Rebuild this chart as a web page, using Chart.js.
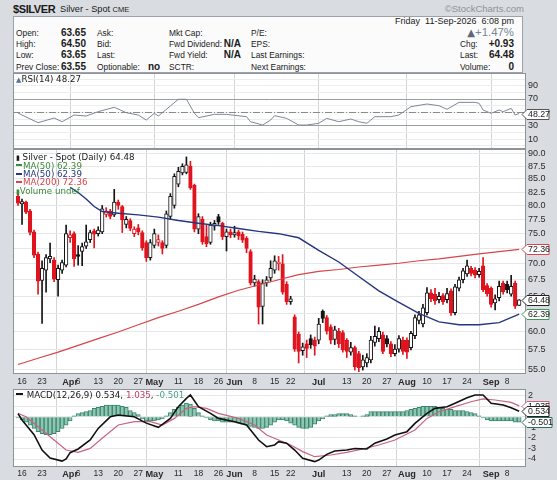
<!DOCTYPE html>
<html><head><meta charset="utf-8">
<title>$SILVER</title>
<script src="https://cdn.jsdelivr.net/npm/chart.js@4.4.1/dist/chart.umd.min.js"></script>
<style>
html,body{margin:0;padding:0}
body{width:557px;height:480px;background:#d9dce0;position:relative;overflow:hidden;font-family:"Liberation Sans",Arial,sans-serif;color:#1a1a1a}
.a{position:absolute;white-space:pre;line-height:12px;font-size:8.4px}
.b{font-weight:bold;font-size:10px}
.lg{position:absolute;white-space:pre;font-family:"DejaVu Sans",sans-serif;font-size:8.7px;line-height:10px}
canvas{position:absolute;left:13px}
#hdr{position:absolute;left:13px;top:16px;width:510px;height:57px;box-sizing:border-box;border:1px solid #9ca2a9;background:#fbfbfc}
.dash{display:inline-block;width:6px;height:2px;vertical-align:middle;margin-right:1px;position:relative;top:-1px}
</style></head><body>
<div class="a" style="left:13px;top:2px;font-size:11px;font-weight:bold;line-height:14px;letter-spacing:-0.4px">$SILVER</div>
<div class="a" style="left:60px;top:3px;font-size:9.2px">Silver - Spot <span style="font-size:7.5px">CME</span></div>
<div class="a" style="right:33px;top:3px;font-size:9.5px;color:#8d939b">©StockCharts.com</div>
<div id="hdr"></div>
<div class="a" style="right:43px;top:15px;font-size:9px">Friday  11-Sep-2026  6:08 pm</div>

<div class="a" style="left:16px;top:27px">Open:</div>
<div class="a" style="left:16px;top:38px">High:</div>
<div class="a" style="left:16px;top:49px">Low:</div>
<div class="a" style="left:16px;top:61px">Prev Close:</div>
<div class="a b" style="right:471px;top:27px">63.65</div>
<div class="a b" style="right:471px;top:38px">64.50</div>
<div class="a b" style="right:471px;top:49px">63.65</div>
<div class="a b" style="right:471px;top:61px">63.55</div>

<div class="a" style="left:97px;top:27px">Ask:</div>
<div class="a" style="left:97px;top:38px">Bid:</div>
<div class="a" style="left:97px;top:49px">Last:</div>
<div class="a" style="left:97px;top:61px">Optionable:</div>
<div class="a b" style="left:148px;top:61px">no</div>

<div class="a" style="left:169px;top:27px">Mkt Cap:</div>
<div class="a" style="left:169px;top:38px">Fwd Dividend:</div>
<div class="a" style="left:169px;top:49px">Fwd Yield:</div>
<div class="a" style="left:169px;top:61px">SCTR:</div>
<div class="a b" style="right:316px;top:38px">N/A</div>
<div class="a b" style="right:316px;top:49px">N/A</div>

<div class="a" style="left:251px;top:27px">P/E:</div>
<div class="a" style="left:251px;top:38px">EPS:</div>
<div class="a" style="left:251px;top:49px">Last Earnings:</div>
<div class="a" style="left:251px;top:61px">Next Earnings:</div>

<div class="a" style="right:43px;top:26px;font-size:11.4px;line-height:13px;color:#7a8595"><span style="font-family:'DejaVu Sans';font-size:10px;color:#5d6878">▲</span>+1.47%</div>
<div class="a" style="left:460px;top:38px">Chg:</div>
<div class="a" style="left:460px;top:49px">Last:</div>
<div class="a" style="left:460px;top:61px">Volume:</div>
<div class="a b" style="right:43px;top:38px">+0.93</div>
<div class="a b" style="right:43px;top:49px">64.48</div>
<div class="a b" style="right:43px;top:61px">0</div>

<canvas id="rsi" width="544" height="76" style="top:73px"></canvas>
<canvas id="price" width="544" height="240" style="top:149px"></canvas>
<canvas id="macd" width="544" height="91" style="top:389px"></canvas>

<div class="lg" style="left:16px;top:74px"><span style="color:#5a6e9a;font-size:7px">▲</span>RSI(14) 48.27</div>
<div class="lg" style="left:16px;top:152px"><span style="font-size:7px">▮</span> Silver - Spot (Daily) 64.48</div>
<div class="lg" style="left:16px;top:160.5px;color:#3a8a3a"><span class="dash" style="background:#3a8a3a"></span>MA(50) 62.39</div>
<div class="lg" style="left:16px;top:169px;color:#26357f"><span class="dash" style="background:#26357f"></span>MA(50) 62.39</div>
<div class="lg" style="left:16px;top:177.3px;color:#d9434a"><span class="dash" style="background:#d9434a"></span>MA(200) 72.36</div>
<div class="lg" style="left:16px;top:186px;color:#3a8a3a"><span style="font-size:7px">▮</span>Volume undef</div>
<div class="lg" style="left:16px;top:389.5px"><span class="dash" style="background:#111;width:7px"></span> MACD(12,26,9) 0.534, <span style="color:#c04060">1.035</span>, <span style="color:#4aa088">-0.501</span></div>

<script>
// ---------- data ----------
const xTickIdx  = [1,6,13,15,20,25,30,34,40,45,50,54,59,64,68,75,82,87,92,97,102,107,112,118,122];
const xTickText = ['16','23','Apr','6','13','20','27','May','11','18','26','Jun','8','15','22','Jul','13','20','27','Aug','10','17','24','Sep','8'];
const monthIdx  = [13,34,54,75,97,118];

const opens  = [81.7,80.3,80.6,79.0,75.3,71.6,67.4,69.0,70.8,70.6,67.5,69.0,69.8,74.3,75.0,71.5,72.0,72.9,74.0,75.5,75.0,75.3,78.4,79.0,78.3,80.6,79.8,76.6,77.3,75.0,76.0,75.2,73.5,71.0,73.0,73.5,73.5,73.0,78.0,80.0,84.0,86.2,86.3,87.5,83.8,75.8,77.5,74.5,73.5,76.3,78.0,76.8,74.5,75.3,74.8,75.3,74.9,74.2,72.0,67.0,67.2,63.5,67.0,67.8,69.0,70.0,70.0,66.8,64.2,62.0,59.6,57.4,58.3,59.0,58.8,58.8,62.8,61.9,60.6,58.9,60.0,59.8,58.8,57.2,57.8,57.0,55.3,55.8,56.2,58.5,59.0,59.5,59.0,58.3,57.0,57.6,58.8,58.8,57.8,59.4,61.5,61.0,62.6,65.5,65.3,64.5,65.1,64.5,65.8,62.6,66.2,67.5,68.4,69.3,69.0,68.3,69.7,66.6,66.2,64.0,64.8,67.0,66.8,65.3,67.0,63.65];
const highs  = [82.2,81.2,80.8,79.3,75.6,71.9,70.5,71.5,73.4,71.0,69.8,70.6,76.5,75.5,75.3,73.0,73.4,76.5,75.6,75.8,76.2,80.0,79.6,79.3,83.0,81.0,80.0,78.0,77.6,76.2,76.6,75.5,73.8,74.0,75.8,74.8,73.8,79.0,82.2,86.0,87.3,88.0,89.4,88.5,84.0,78.5,78.0,76.5,77.0,77.3,78.4,77.0,75.8,75.8,76.3,75.6,75.3,74.5,72.3,68.2,67.5,67.5,68.0,70.5,71.3,71.2,71.5,67.2,65.0,62.3,59.9,58.4,58.8,59.5,59.2,61.8,63.0,62.2,60.9,60.7,60.4,60.1,59.0,58.5,58.0,57.3,56.8,57.0,59.3,60.7,60.5,59.9,59.4,58.6,58.2,59.4,59.2,59.1,60.0,62.3,62.8,63.8,66.3,66.0,66.2,65.6,65.4,66.2,66.1,66.8,67.9,69.3,70.6,69.6,69.4,69.3,71.0,66.9,66.4,65.2,67.3,67.3,67.3,68.2,67.3,64.50];
const lows   = [80.0,76.6,78.5,74.8,71.0,65.3,61.1,65.6,70.2,67.2,65.0,68.5,69.5,73.5,69.6,69.8,69.7,72.5,73.5,72.6,74.6,75.0,77.9,77.6,78.0,79.3,75.2,76.0,75.5,74.5,74.8,72.2,70.4,70.6,72.6,72.9,71.6,72.6,77.5,79.5,83.5,85.8,86.0,83.0,75.3,75.0,73.2,72.8,73.2,75.6,76.6,74.0,72.1,74.3,74.4,74.0,73.5,71.8,66.7,66.5,61.0,61.0,66.5,67.3,68.5,69.0,65.3,63.8,63.8,57.3,55.8,56.8,56.5,57.7,56.8,58.3,61.2,59.6,58.3,58.2,57.8,57.2,56.5,56.8,54.9,54.7,54.9,55.3,55.8,58.0,58.6,57.0,57.9,56.6,56.7,57.2,56.9,56.4,57.5,59.0,61.0,60.6,62.3,64.2,63.8,64.0,63.8,64.0,62.2,62.3,65.8,67.0,68.0,68.1,67.8,67.9,65.7,65.0,63.4,63.0,64.3,65.3,65.5,65.0,63.2,63.65];
const closes = [80.4,80.7,78.8,75.2,71.4,67.3,69.3,71.0,71.2,67.6,69.3,70.2,75.0,74.8,70.8,71.2,72.8,73.6,75.2,74.9,75.6,79.4,79.0,78.0,80.6,80.0,77.4,77.5,75.9,75.8,75.3,72.6,71.0,73.5,75.0,74.0,72.5,78.5,81.7,85.5,86.5,87.5,87.8,83.3,75.8,78.0,73.6,73.3,76.5,76.8,77.0,74.5,75.3,74.8,75.2,74.6,73.9,72.5,67.0,67.6,63.4,67.0,67.5,69.3,70.5,70.3,65.6,64.2,64.6,57.6,57.3,57.9,57.7,58.2,58.0,61.0,61.8,60.0,58.8,60.2,58.3,57.5,57.3,57.8,55.3,55.2,56.2,56.5,58.8,59.3,60.0,57.3,58.3,57.0,57.6,59.0,57.3,57.2,59.7,61.9,62.3,63.3,65.5,64.6,64.3,65.0,64.2,65.4,62.6,66.4,67.5,68.9,69.7,68.5,68.2,68.8,66.0,65.4,63.8,64.6,66.5,65.7,66.0,66.5,63.55,64.48];

const ma50Idx  = [13,15,17,19,21,25,30,35,40,45,50,55,60,65,70,75,80,85,90,95,100,105,110,115,120,125];
const ma50Val  = [83.4,82.4,81.2,79.8,78.9,78.6,78.3,77.9,77.3,76.8,76.4,75.9,75.4,75.0,74.3,72.2,70.3,68.0,65.8,64.1,62.5,61.3,60.9,60.9,61.2,62.39];
const ma200Idx = [0,5,10,15,20,25,30,35,40,45,50,55,60,65,70,75,80,85,90,95,100,105,110,115,120,125];
const ma200Val = [55.6,56.4,57.2,58.1,59.0,59.9,60.9,61.9,62.8,63.8,64.9,65.9,66.7,67.5,68.3,68.8,69.1,69.5,69.8,70.1,70.5,70.8,71.2,71.6,72.0,72.36];
const priceTicks = [55,57.5,60,62.5,65,67.5,70,72.5,75,77.5,80,82.5,85,87.5,90];

const rsiIdx = [0,1,5,9,11,14,17,20,24,27,30,32,34,35,38,40,42,44,45,49,52,57,58,61,63,64,67,70,72,75,77,80,83,85,87,89,93,95,98,102,105,107,110,114,115,116,118,120,121,123,124,125];
const rsiVal = [49,46,34.5,41.5,36,46,44.5,51,57.6,49.5,46,38.5,48.6,44.5,59.5,69.6,69.6,48.6,42,47,47,43.5,36,31,38.5,45,41,31,31,33.6,41,36,40,36,33.6,43.5,43.5,46,58.5,62.5,60,54.6,65,65,63.6,53.5,48.6,53.5,51,56,46,48.27];
const rsiGrid = [0,10,20,30,40,50,60,70,80,90,100];
const rsiLabels = [10,30,70,90];

const macdIdx = [0,1,4,6,8,11,12,13,15,18,20,23,25,29,32,35,38,40,42,43,45,48,50,54,57,60,62,64,65,67,69,71,74,75,77,79,82,84,87,89,92,94,97,99,102,104,107,109,112,114,116,118,121,123,125];
const macdVal = [0.3,-0.3,-1.7,-3.15,-3.9,-4.2,-4.0,-3.4,-3.05,-2.2,-1.1,0,0.17,0,-0.6,-1.0,-0.15,0.96,1.75,2.07,0.96,0.33,-0.15,-0.46,-0.78,-2.2,-2.83,-2.67,-2.36,-2.5,-3.15,-3.93,-4.25,-4.1,-3.56,-3.24,-3.15,-3.0,-3.05,-2.5,-2.1,-1.72,-1.41,-0.62,0.33,0.8,0.96,1.28,1.81,2.07,2.07,1.28,1.12,0.86,0.534];
const signalIdx = [0,2,5,9,12,15,18,21,25,29,33,36,39,42,44,47,50,55,59,62,65,68,71,74,78,82,86,90,94,99,102,105,109,113,116,119,123,125];
const signalVal = [0.33,0,-0.94,-2.2,-3.15,-3.37,-2.99,-2.04,-0.78,-0.46,-0.46,-0.78,-0.15,0.8,0.96,0.8,0.33,-0.15,-0.78,-1.72,-2.2,-2.67,-3.3,-3.78,-3.62,-3.37,-3.05,-2.67,-2.2,-1.25,-0.15,0.48,0.96,1.43,1.69,1.59,1.37,1.035];
const histVal = [-0.1,-0.3,-0.5,-0.8,-1.1,-1.4,-1.6,-1.7,-1.7,-1.6,-1.4,-1.1,-0.8,-0.4,0.1,0.3,0.4,0.5,0.6,0.8,0.9,1.0,1.1,1.1,1.1,1.1,1.0,0.9,0.6,0.4,0.2,-0.2,-0.4,-0.4,-0.4,-0.3,-0.2,0.1,0.4,0.7,0.9,1.1,1.3,1.2,0.8,0.4,0.1,-0.1,-0.3,-0.4,-0.4,-0.5,-0.5,-0.5,-0.5,-0.6,-0.7,-0.8,-0.9,-1.0,-1.1,-1.1,-1.0,-0.8,-0.5,-0.3,-0.3,-0.4,-0.6,-0.8,-1.0,-1.1,-1.1,-1.0,-0.7,-0.4,-0.2,0.1,0.2,0.2,0.3,0.3,0.3,0.2,0.1,0.0,0.1,0.2,0.5,0.5,0.5,0.5,0.5,0.5,0.5,0.5,0.5,0.6,0.7,0.8,0.9,1.0,1.0,1.0,1.0,0.9,0.8,0.7,0.7,0.6,0.6,0.6,0.5,0.4,0.3,0.1,-0.1,-0.3,-0.4,-0.4,-0.4,-0.4,-0.4,-0.4,-0.5,-0.501];
const macdTicks = [2,1,0,-1,-2,-3,-4];

// ---------- styling / helpers ----------
const X_MIN = -1.25, X_MAX = 126.7;
const FONT = 'Liberation Sans';
const RED = '#e0141e', BLACK = '#141414';
Chart.defaults.font.family = FONT;

const pts = (ix, vals) => ix.map((x, k) => ({x, y: vals[k]}));
const candleColor = closes.map((c, i) => (i > 0 ? c < closes[i-1] : c < opens[i]) ? RED : BLACK);
const bodyFill = closes.map((c, i) => c < opens[i] ? candleColor[i] : '#ffffff');

const framePlugin = {
  id: 'frame',
  beforeDraw(chart) {
    const {ctx, chartArea: a} = chart;
    ctx.save(); ctx.fillStyle = '#ffffff';
    ctx.fillRect(a.left, a.top, a.right - a.left, a.bottom - a.top); ctx.restore();
  },
  beforeDatasetsDraw(chart, args, opts) {
    if (opts.dashAt === undefined) return;
    const {ctx, chartArea: a} = chart;
    const y = Math.round(chart.scales.y.getPixelForValue(opts.dashAt)) + 0.5;
    ctx.save(); ctx.strokeStyle = '#8a8a8a'; ctx.lineWidth = 1; ctx.setLineDash([7, 2, 1, 2]);
    ctx.beginPath(); ctx.moveTo(a.left, y); ctx.lineTo(a.right, y); ctx.stroke(); ctx.restore();
  },
  afterDatasetsDraw(chart) {
    const {ctx, chartArea: a} = chart;
    ctx.save(); ctx.strokeStyle = '#8e9399'; ctx.lineWidth = 1;
    ctx.strokeRect(a.left + 0.5, a.top + 0.5, a.right - a.left - 1, a.bottom - a.top - 1); ctx.restore();
  },
  afterDraw(chart, args, opts) {
    const {ctx, chartArea: a} = chart;
    (opts.tags || []).forEach(t => {
      const y = Math.round(chart.scales.y.getPixelForValue(t.v)) + 0.5;
      const r = a.right;
      ctx.save();
      ctx.beginPath();
      ctx.moveTo(r - 4, y); ctx.lineTo(r + 1, y - 5); ctx.lineTo(r + t.w, y - 5);
      ctx.lineTo(r + t.w, y + 5); ctx.lineTo(r + 1, y + 5); ctx.closePath();
      ctx.fillStyle = '#ffffff'; ctx.fill();
      ctx.strokeStyle = t.c; ctx.lineWidth = 1; ctx.stroke();
      ctx.fillStyle = '#1a1a1a'; ctx.font = '8.8px "' + FONT + '"'; ctx.textBaseline = 'middle';
      ctx.fillText(t.text, r + 2, y + 0.5);
      ctx.restore();
    });
  }
};

function xAxis(show, h, pad) {
  return {
    type: 'linear', min: X_MIN, max: X_MAX, offset: false,
    afterBuildTicks: s => { s.ticks = xTickIdx.map(v => ({value: v})); },
    afterFit: s => { s.height = h; s.paddingLeft = 0; s.paddingRight = 0; },
    grid: { color: c => (c.tick && monthIdx.includes(c.tick.value)) ? '#d2d4d7' : 'rgba(0,0,0,0)', drawTicks: false },
    border: { display: false },
    ticks: {
      display: show, autoSkip: false, maxRotation: 0, minRotation: 0, padding: pad, color: '#2a2a2a',
      callback: v => xTickText[xTickIdx.indexOf(v)],
      font: c => {
        const m = c.tick && monthIdx.includes(c.tick.value);
        return {family: FONT, size: m ? 9.2 : 8.5, weight: m ? 'bold' : 'normal'};
      }
    }
  };
}
function yAxis(extra) {
  return Object.assign({
    position: 'right',
    afterFit: s => { s.width = 31; s.paddingTop = 0; s.paddingBottom = 0; },
    border: { display: false },
    grid: { color: '#e6e7e9', drawTicks: false },
    ticks: { autoSkip: false, padding: 2, color: '#2a2a2a', font: {family: FONT, size: 9} }
  }, extra);
}
const base = {
  responsive: false, animation: false, events: [],
  layout: { padding: 0, autoPadding: false },
};

// ---------- RSI ----------
new Chart(document.getElementById('rsi'), {
  type: 'line',
  data: { datasets: [{ data: pts(rsiIdx, rsiVal), borderColor: '#7f879c', borderWidth: 1, pointRadius: 0, tension: 0 }] },
  options: Object.assign({}, base, {
    plugins: { legend: {display: false}, tooltip: {enabled: false}, frame: { dashAt: 50, tags: [{v: 48.27, text: '48.27', w: 23, c: '#555'}] } },
    scales: {
      x: xAxis(false, 0, 0),
      y: yAxis({
        min: -4.95, max: 109,
        afterBuildTicks: s => { s.ticks = rsiGrid.map(v => ({value: v})); },
        ticks: { autoSkip: false, padding: 2, color: '#2a2a2a', font: {family: FONT, size: 9},
                 callback: v => rsiLabels.includes(v) ? String(v) : '' },
        grid: { drawTicks: false, color: c => (c.tick && (c.tick.value === 70 || c.tick.value === 30)) ? '#9a9da1' : '#eceded' }
      })
    }
  }),
  plugins: [framePlugin]
});

// ---------- Price ----------
new Chart(document.getElementById('price'), {
  type: 'bar',
  data: { datasets: [
    { type: 'line', data: pts(ma50Idx, ma50Val), borderColor: '#26357f', borderWidth: 1.4, pointRadius: 0, tension: 0 },
    { type: 'line', data: pts(ma200Idx, ma200Val), borderColor: '#d9434a', borderWidth: 1.2, pointRadius: 0, tension: 0 },
    { type: 'bar', data: opens.map((o, i) => ({x: i, y: [Math.min(o, closes[i]), Math.max(o, closes[i])]})),
      backgroundColor: bodyFill, borderColor: candleColor, borderWidth: 1, borderSkipped: false,
      barThickness: 3.6, grouped: false, minBarLength: 1 },
    { type: 'bar', data: lows.map((l, i) => ({x: i, y: [l, highs[i]]})),
      backgroundColor: candleColor, borderWidth: 0, barThickness: 1, grouped: false }
  ]},
  options: Object.assign({}, base, {
    plugins: { legend: {display: false}, tooltip: {enabled: false}, frame: { tags: [
      {v: 72.36, text: '72.36', w: 23, c: '#d9434a'},
      {v: 64.48, text: '64.48', w: 23, c: '#222'},
      {v: 62.39, text: '62.39', w: 23, c: '#3c9a55'}
    ] } },
    scales: {
      x: xAxis(true, 15, 3),
      y: yAxis({
        type: 'logarithmic', min: 54.41, max: 91.03,
        afterBuildTicks: s => { s.ticks = priceTicks.map(v => ({value: v})); },
        ticks: { autoSkip: false, padding: 2, color: '#2a2a2a', font: {family: FONT, size: 9}, callback: v => Number(v).toFixed(1) }
      })
    }
  }),
  plugins: [framePlugin]
});

// ---------- MACD ----------
new Chart(document.getElementById('macd'), {
  type: 'bar',
  data: { datasets: [
    { type: 'line', data: pts(macdIdx, macdVal), borderColor: '#111111', borderWidth: 1.6, pointRadius: 0, tension: 0 },
    { type: 'line', data: pts(signalIdx, signalVal), borderColor: '#c8647c', borderWidth: 1.2, pointRadius: 0, tension: 0 },
    { type: 'bar', data: histVal.map((h, i) => ({x: i, y: h})), backgroundColor: '#8fc6b1', borderColor: '#3a8470',
      borderWidth: 1, barThickness: 4, grouped: false }
  ]},
  options: Object.assign({}, base, {
    plugins: { legend: {display: false}, tooltip: {enabled: false}, frame: { tags: [
      {v: 1.035, text: '1.035', w: 23, c: '#c8647c'},
      {v: 0.534, text: '0.534', w: 23, c: '#222'},
      {v: -0.501, text: '-0.501', w: 26, c: '#2f6f5f'}
    ] } },
    scales: {
      x: xAxis(true, 13, 2),
      y: yAxis({
        min: -4.758, max: 2.635,
        afterBuildTicks: s => { s.ticks = macdTicks.map(v => ({value: v})); },
        ticks: { autoSkip: false, padding: 2, color: '#2a2a2a', font: {family: FONT, size: 9}, callback: v => String(v) }
      })
    }
  }),
  plugins: [framePlugin]
});
</script>
</body></html>
